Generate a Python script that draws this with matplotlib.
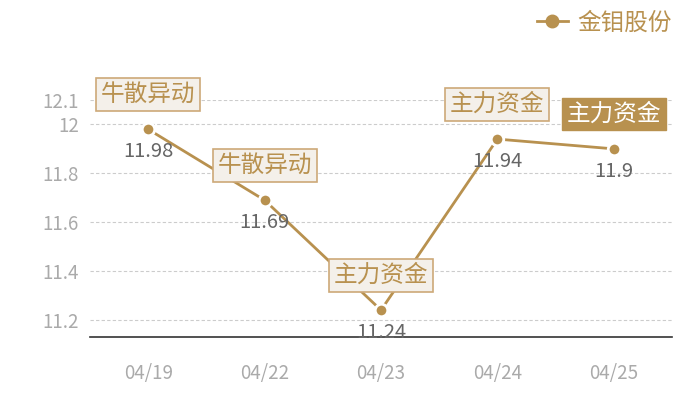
import matplotlib.pyplot as plt

plt.rcParams['font.family'] = ['Noto Sans CJK SC', 'DejaVu Sans']

# data
dates = ["04/19", "04/22", "04/23", "04/24", "04/25"]
prices = [11.98, 11.69, 11.24, 11.94, 11.9]
tags = ["牛散异动", "牛散异动", "主力资金", "主力资金", "主力资金"]
highlight = [False, False, False, False, True]
series_name = "金钼股份"
yticks = [11.2, 11.4, 11.6, 11.8, 12, 12.1]

GOLD = "#b8914f"

fig = plt.figure(figsize=(7, 4), dpi=100)
ax = fig.add_axes([90 / 700, 63 / 400, 582 / 700, 237 / 400])

x = list(range(len(dates)))
ax.plot(x, prices, color=GOLD, lw=2, marker="o", markersize=9,
        markeredgecolor="white", markeredgewidth=2, label=series_name,
        zorder=3, clip_on=False)

# value labels below points
for xi, v in zip(x, prices):
    ax.annotate(f"{v:g}", (xi, v), xytext=(0, -16), textcoords="offset points",
                ha="center", va="center", fontsize=14.5, color="#666666", zorder=4)

# tag boxes above points
for xi, v, t, h in zip(x, prices, tags, highlight):
    if h:
        box = dict(boxstyle="square,pad=0.2", fc=GOLD, ec=GOLD, lw=1)
        tc = "white"
    else:
        box = dict(boxstyle="square,pad=0.2", fc="#f4f0ea", ec="#cda978", lw=1.2)
        tc = GOLD
    ax.annotate(t, (xi, v), xytext=(0, 25), textcoords="offset points",
                ha="center", va="center", fontsize=17, color=tc, bbox=box,
                fontweight="light", zorder=5)

ax.set_xlim(-0.5, len(dates) - 0.5)
ax.set_ylim(11.13, 12.1)
ax.set_xticks(x)
ax.set_xticklabels(dates)
ax.set_yticks(yticks)
ax.set_yticklabels([f"{t:g}" for t in yticks])
ax.tick_params(axis="both", length=0, labelsize=13.5, colors="#aaaaaa")
ax.tick_params(axis="x", pad=19)
ax.tick_params(axis="y", pad=8)

ax.grid(axis="y", color="#cccccc", linestyle=(0, (3, 2)), lw=0.8)
ax.set_axisbelow(True)
for s in ["top", "right", "left"]:
    ax.spines[s].set_visible(False)
ax.spines["bottom"].set_color("#333333")
ax.spines["bottom"].set_linewidth(1.2)

leg = fig.legend(loc="upper right", bbox_to_anchor=(0.99, 1.025), frameon=False,
                 fontsize=17, handlelength=1.3, handletextpad=0.4)
for t in leg.get_texts():
    t.set_color(GOLD)
for hd in leg.legend_handles:
    hd.set_markeredgecolor(GOLD)
    hd.set_markersize(8)

fig.savefig("out.png", dpi=100)
